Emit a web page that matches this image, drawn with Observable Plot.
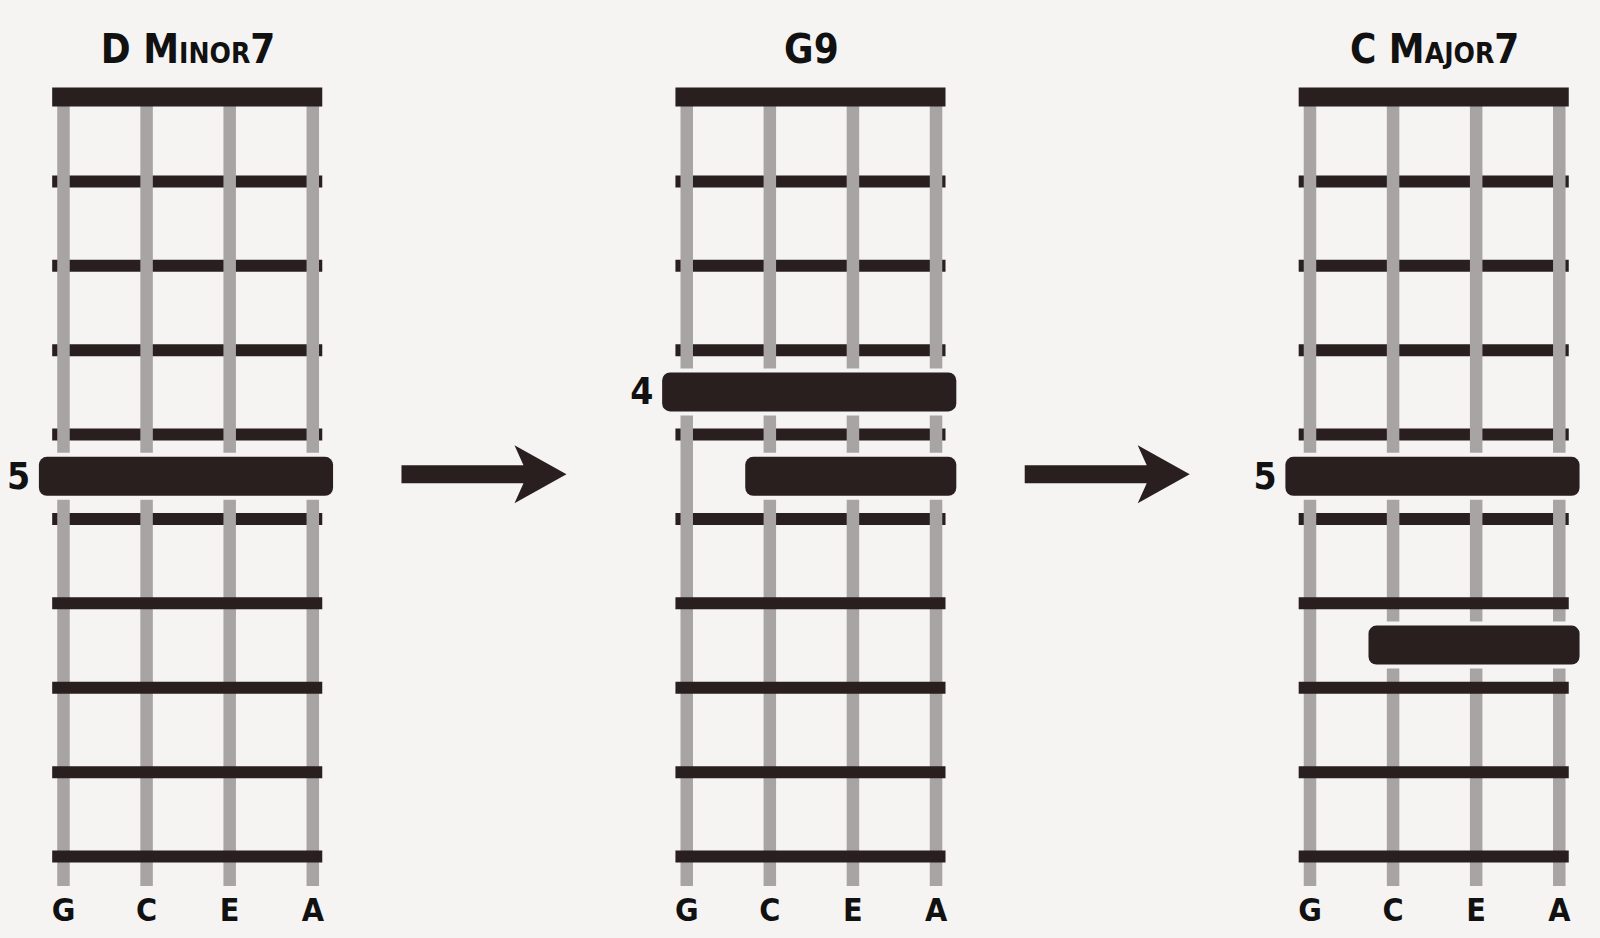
<!DOCTYPE html>
<html><head><meta charset="utf-8">
<script src="https://cdn.jsdelivr.net/npm/d3@7"></script>
<script src="https://cdn.jsdelivr.net/npm/@observablehq/plot@0.6"></script>
<style>
html,body{margin:0;padding:0;background:#f5f4f3;}
#chart{width:1600px;height:938px;}
</style>
</head><body><div id="chart"></div>
<script>
// ---- data ----
const chordNames = ["D Minor7", "G9", "C Major7"];
const stringNames = ["G", "C", "E", "A"];
const fretLines = [1, 2, 3, 4, 5, 6, 7, 8, 9];
const barChord = [0, 1, 1, 2, 2];
const barFret  = [5, 4, 5, 5, 7];
const barFrom  = [0, 0, 1, 0, 1];
const barTo    = [3, 3, 3, 3, 3];
const barLabel = ["5", "4", "", "5", ""];
const arrowFrom = [0, 1];

// ---- tables ----
const CH = 7.5; // chord offset, in string spacings
const frets = [];
chordNames.forEach((c, ci) => fretLines.forEach(f => frets.push({chord: ci, fret: f})));
const strs = [];
chordNames.forEach((c, ci) => stringNames.forEach((s, si) => strs.push({chord: ci, s: si, name: s})));
const bars = barChord.map((c, i) => ({chord: c, fret: barFret[i], from: barFrom[i], to: barTo[i], label: barLabel[i]}));

const DARK = "#291f1f";
const GRAY = "#a9a4a4";
const BG = "#f5f4f3";
const FONT = "'DejaVu Sans Condensed', 'Liberation Sans Narrow', sans-serif";
const HALF = 0.231; // bar half height in fret units

const arrowSymbol = {
  draw(ctx, size) {
    const k = Math.sqrt(size / Math.PI) / 82.5;
    const P = [[-82.5,-9],[39.5,-9],[30.5,-29],[82.5,0],[30.5,29],[39.5,9],[-82.5,9]];
    ctx.moveTo(P[0][0]*k, P[0][1]*k);
    for (let i = 1; i < P.length; i++) ctx.lineTo(P[i][0]*k, P[i][1]*k);
    ctx.closePath();
  }
};

const chart = Plot.plot({
  width: 1600, height: 938,
  marginTop: 0, marginBottom: 0, marginLeft: 0, marginRight: 0,
  style: {background: BG},
  x: {domain: [-0.758, 18.496], axis: null},
  y: {domain: [-1.1435, 9.971], reverse: true, axis: null},
  marks: [
    // frets under strings
    Plot.ruleY(frets.filter(d => d.fret <= 5), {y: "fret", x1: d => d.chord*CH - 0.13, x2: d => d.chord*CH + 3.12, stroke: DARK, strokeWidth: 12}),
    // strings
    Plot.ruleX(strs, {x: d => d.chord*CH + d.s, y1: () => 0, y2: () => 9.355, stroke: GRAY, strokeWidth: 12.5}),
    // nut
    Plot.ruleY(chordNames, {y: () => 0, x1: (d, i) => i*CH - 0.13, x2: (d, i) => i*CH + 3.12, stroke: DARK, strokeWidth: 19}),
    // frets over strings
    Plot.ruleY(frets.filter(d => d.fret > 5), {y: "fret", x1: d => d.chord*CH - 0.13, x2: d => d.chord*CH + 3.12, stroke: DARK, strokeWidth: 12}),
    // bar gaps
    Plot.rect(bars, {x1: d => d.chord*CH + d.from - 0.29, x2: d => d.chord*CH + d.to + 0.25, y1: d => d.fret - 0.5 - HALF, y2: d => d.fret - 0.5 + HALF, fill: BG, inset: -4, rx: 11}),
    // bars
    Plot.rect(bars, {x1: d => d.chord*CH + d.from - 0.29, x2: d => d.chord*CH + d.to + 0.25, y1: d => d.fret - 0.5 - HALF, y2: d => d.fret - 0.5 + HALF, fill: DARK, rx: 8}),
    // fret numbers
    Plot.text(bars.filter(d => d.label), {x: d => d.chord*CH - 0.54, y: d => d.fret - 0.5, text: "label", fontSize: 37, fontWeight: "bold", fontFamily: FONT, fill: "#111"}),
    // titles
    Plot.text(chordNames, {x: (d, i) => i*CH + 1.5, y: () => -0.56, text: d => d, fontSize: 40, fontWeight: "bold", fontFamily: FONT, fontVariant: "small-caps", fill: "#111"}),
    // string names
    Plot.text(strs, {x: d => d.chord*CH + d.s, y: () => 9.64, text: "name", fontSize: 32, fontWeight: "bold", fontFamily: FONT, fill: "#111"}),
    // arrows
    Plot.dot(arrowFrom, {x: d => d*CH + 3 + (CH - 3)/2 - 0.19, y: () => 4.47, symbol: arrowSymbol, r: 82.5, fill: DARK, stroke: "none"})
  ]
});
document.getElementById("chart").appendChild(chart);
</script>
</body></html>
